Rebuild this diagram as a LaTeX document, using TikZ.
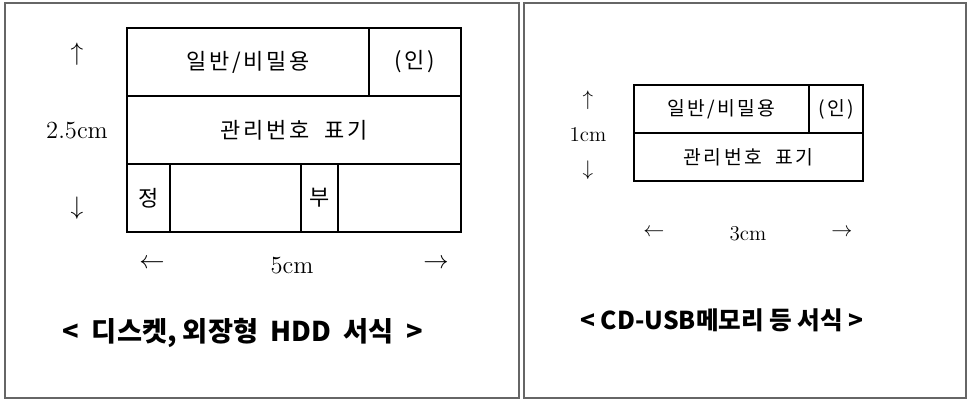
\documentclass[tikz,border=0pt]{standalone}
\usepackage{fontspec}
\newfontfamily\kr{Noto Sans CJK KR}
\newfontfamily\krwide{Noto Sans CJK KR}[LetterSpace=12]
\usetikzlibrary{positioning}

\begin{document}
\begin{tikzpicture}[
  x=0.02cm, y=-0.02cm,
  font=\krwide\fontsize{12.5}{14}\selectfont,
  frame/.style={draw=black!60, line width=0.6pt},
  cell/.style={draw, line width=0.6pt, inner sep=0pt, anchor=center},
  smallcell/.style={cell, font=\krwide\fontsize{11}{13}\selectfont},
  dim/.style={font=\fontsize{14}{16}\selectfont},
  smalldim/.style={font=\fontsize{12}{14}\selectfont},
  ttl/.style={font=\kr\bfseries\fontsize{15.5}{18}\selectfont},
]
\useasboundingbox (0,0) rectangle (969,400);

% frames
\node[frame, minimum width=514*0.02cm, minimum height=395*0.02cm, inner sep=0pt] (lframe) at (262,200.5) {};
\node[frame, minimum width=442*0.02cm, minimum height=395*0.02cm, inner sep=0pt] (rframe) at (745,200.5) {};

% diskette / HDD label
\node[cell, minimum width=242*0.02cm, minimum height=68*0.02cm] (lgen) at (248,62) {일반/비밀용};
\node[cell, minimum width=92*0.02cm, minimum height=68*0.02cm] (lin) at (415,62) {(인)};
\node[cell, minimum width=334*0.02cm, minimum height=68*0.02cm] (lnum) at (294,130) {관리번호\ \ 표기};
\node[cell, minimum width=43*0.02cm, minimum height=68*0.02cm] (ljeong) at (148.5,198) {정};
\node[cell, minimum width=131*0.02cm, minimum height=68*0.02cm] (ljeongv) at (235.5,198) {};
\node[cell, minimum width=37*0.02cm, minimum height=68*0.02cm] (lbu) at (319.5,198) {부};
\node[cell, minimum width=123*0.02cm, minimum height=68*0.02cm] (lbuv) at (399.5,198) {};

\node[dim] (lup) at (77,54) {$\uparrow$};
\node[dim] (lh) at (77,131) {2.5cm};
\node[dim] (ldown) at (77,208) {$\downarrow$};
\node[dim] (lleft) at (152,264) {$\leftarrow$};
\node[dim] (lw) at (292,266) {5cm};
\node[dim] (lright) at (436,264) {$\rightarrow$};

\node[ttl] (ltitle) at (243,333) {<\ \ 디스켓, 외장형\ \ HDD\ \ 서식\ \ >};

% CD / USB label
\node[smallcell, minimum width=175*0.02cm, minimum height=48*0.02cm] (rgen) at (721.5,109) {일반/비밀용};
\node[smallcell, minimum width=54*0.02cm, minimum height=48*0.02cm] (rin) at (836,109) {(인)};
\node[smallcell, minimum width=229*0.02cm, minimum height=48*0.02cm] (rnum) at (748.5,157) {관리번호\ \ 표기};

\node[smalldim] (rup) at (588,100) {$\uparrow$};
\node[smalldim] (rh) at (588,135) {1cm};
\node[smalldim] (rdown) at (588,170) {$\downarrow$};
\node[smalldim] (rleft) at (654,233) {$\leftarrow$};
\node[smalldim] (rw) at (748,234) {3cm};
\node[smalldim] (rright) at (842,233) {$\rightarrow$};

\node[ttl, font=\kr\bfseries\fontsize{14}{16}\selectfont] (rtitle) at (722,320) {< CD-USB메모리 등 서식 >};
\end{tikzpicture}
\end{document}
